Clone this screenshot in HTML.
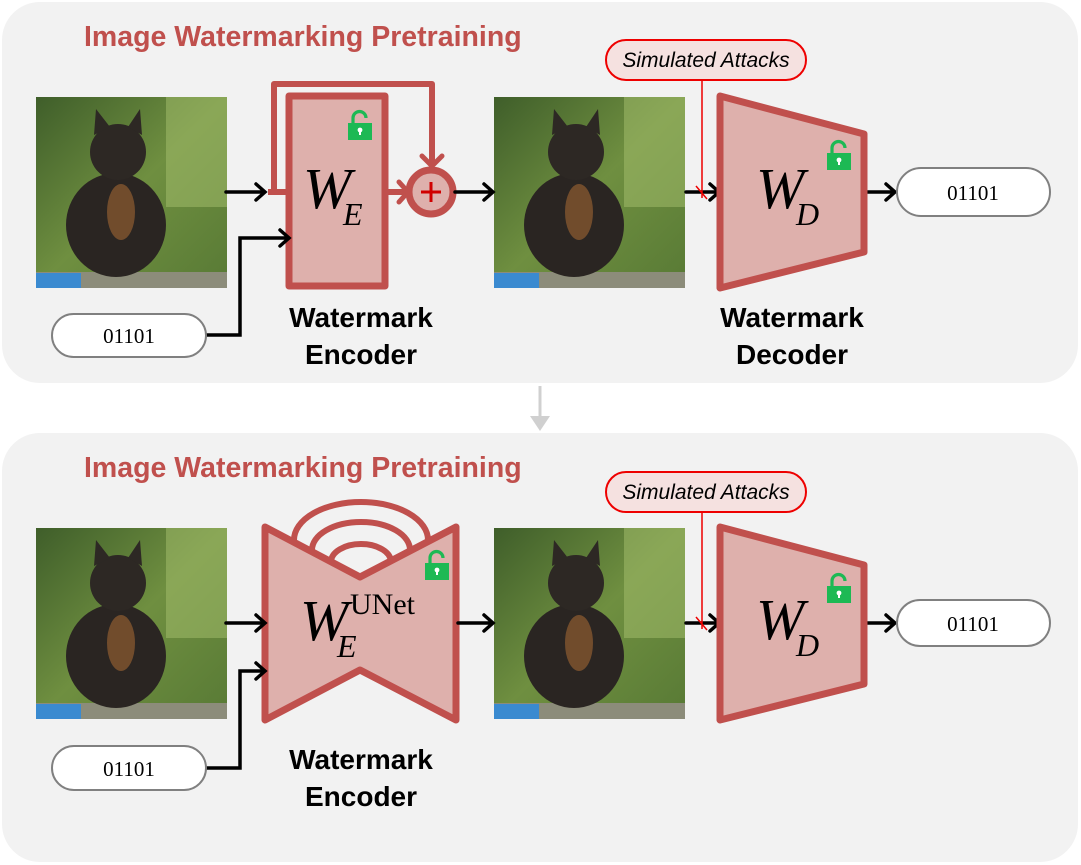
<!DOCTYPE html>
<html><head><meta charset="utf-8"><style>
body{margin:0;background:#fff}
svg{display:block}
.t{font-family:"Liberation Sans",sans-serif}
</style></head><body>
<svg width="1081" height="865" viewBox="0 0 1081 865" xmlns="http://www.w3.org/2000/svg">
<defs>
<linearGradient id="bg" x1="0" y1="0" x2="1" y2="1">
<stop offset="0" stop-color="#3f5e2a"/><stop offset="0.5" stop-color="#6f8f40"/><stop offset="1" stop-color="#587a35"/>
</linearGradient>
<g id="cat">
<rect x="0" y="0" width="191" height="191" fill="url(#bg)"/>
<rect x="130" y="0" width="61" height="110" fill="#a6bf6e" opacity="0.5"/>
<rect x="0" y="175" width="191" height="16" fill="#8c8c7a"/>
<rect x="0" y="176" width="45" height="15" fill="#3a8ad0"/>
<ellipse cx="80" cy="128" rx="50" ry="52" fill="#2a2522"/>
<ellipse cx="82" cy="55" rx="28" ry="28" fill="#2d2824"/>
<path d="M58 38 L60 12 L74 30Z M92 30 L104 12 L106 38Z" fill="#2d2824"/>
<ellipse cx="85" cy="115" rx="14" ry="28" fill="#8a5a30" opacity="0.75"/>
</g>
<g id="lock">
<path d="M5 12 V7 a6.5 6.5 0 0 1 13 0" fill="none" stroke="#1db954" stroke-width="3.2"/>
<rect x="0" y="12" width="24" height="17" fill="#1db954"/>
<circle cx="12" cy="19" r="2.4" fill="#fff"/><rect x="11" y="19" width="2" height="5" fill="#fff"/>
</g>
</defs>
<rect x="2" y="2" width="1076" height="381" rx="38" fill="#f2f2f2"/>
<rect x="2" y="433" width="1076" height="429" rx="38" fill="#f2f2f2"/>
<path d="M540 386 V418" stroke="#d0d0d0" stroke-width="3"/>
<path d="M530 416 L540 431 L550 416Z" fill="#d0d0d0"/>

<text x="84" y="46" class="t" font-size="28.5" font-weight="bold" fill="#c0504d">Image Watermarking Pretraining</text>
<text x="84" y="477" class="t" font-size="28.5" font-weight="bold" fill="#c0504d">Image Watermarking Pretraining</text>

<use href="#cat" x="36" y="97"/>
<use href="#cat" x="494" y="97"/>
<path d="M274 190 V84 H432 V166" fill="none" stroke="#c0504d" stroke-width="6" stroke-linejoin="round"/>
<path d="M422 156 L432 166 L442 156" fill="none" stroke="#c0504d" stroke-width="5" stroke-linecap="round"/>
<path d="M268 192 H289" stroke="#c0504d" stroke-width="6"/>
<rect x="289" y="96" width="96" height="190" fill="#deb0ac" stroke="#c0504d" stroke-width="7" stroke-linejoin="round"/>
<use href="#lock" x="348" y="111"/>
<text x="303" y="208" font-family="'Liberation Serif',serif" font-style="italic" font-size="58">W</text>
<text x="343" y="225" font-family="'Liberation Serif',serif" font-style="italic" font-size="32">E</text>
<path d="M385 192 H405" stroke="#c0504d" stroke-width="6"/>
<path d="M399 182 L408 192 L399 202" fill="none" stroke="#c0504d" stroke-width="5" stroke-linecap="round"/>
<circle cx="431" cy="192" r="22" fill="#deb0ac" stroke="#c0504d" stroke-width="7"/>
<path d="M421 192 H441 M431 182 V202" stroke="#d00000" stroke-width="3"/>
<g stroke="#000" stroke-width="3.5" fill="none" stroke-linecap="round">
<path d="M226 192 H264 M256 184 L265 192 L256 200"/>
<path d="M206 335 H240 V238 H288 M280 230 L289 238 L280 246"/>
<path d="M455 192 H492 M484 184 L493 192 L484 200"/>
<path d="M686 192 H718 M710 184 L719 192 L710 200"/>
<path d="M866 192 H894 M886 184 L895 192 L886 200"/>
</g>
<rect x="52" y="314" width="154" height="43" rx="21.5" fill="#fff" stroke="#808080" stroke-width="2"/>
<text x="129" y="343" text-anchor="middle" font-family="'Liberation Serif',serif" font-size="21">01101</text>
<text x="361" y="327" text-anchor="middle" class="t" font-size="28" font-weight="bold">Watermark</text>
<text x="361" y="364" text-anchor="middle" class="t" font-size="28" font-weight="bold">Encoder</text>
<rect x="606" y="40" width="200" height="40" rx="20" fill="#f5e1e0" stroke="#e00" stroke-width="2"/>
<text x="706" y="67" text-anchor="middle" class="t" font-size="21" font-style="italic">Simulated Attacks</text>
<path d="M702 80 V198 M696 186 L707 199" stroke="#e00" stroke-width="1.5" fill="none"/>
<path d="M720 96 L864 134 V252 L720 288Z" fill="#deb0ac" stroke="#c0504d" stroke-width="7" stroke-linejoin="round"/>
<use href="#lock" x="827" y="141"/>
<text x="756" y="208" font-family="'Liberation Serif',serif" font-style="italic" font-size="58">W</text>
<text x="796" y="225" font-family="'Liberation Serif',serif" font-style="italic" font-size="32">D</text>
<rect x="897" y="168" width="153" height="48" rx="24" fill="#fff" stroke="#808080" stroke-width="2"/>
<text x="973" y="200" text-anchor="middle" font-family="'Liberation Serif',serif" font-size="21">01101</text>
<text x="792" y="327" text-anchor="middle" class="t" font-size="28" font-weight="bold">Watermark</text>
<text x="792" y="364" text-anchor="middle" class="t" font-size="28" font-weight="bold">Decoder</text>

<use href="#cat" x="36" y="528"/>
<use href="#cat" x="494" y="528"/>
<g fill="none" stroke="#c0504d" stroke-width="6">
<path d="M294 540 A67 38 0 0 1 428 540"/>
<path d="M312 550 A49 28 0 0 1 410 550"/>
<path d="M331 562 A30 18 0 0 1 391 562"/>
</g>
<path d="M265 527 L360 577 L456 527 V720 L360 670 L265 720Z" fill="#deb0ac" stroke="#c0504d" stroke-width="7" stroke-linejoin="round"/>
<use href="#lock" x="425" y="551"/>
<text x="300" y="640" font-family="'Liberation Serif',serif" font-style="italic" font-size="58">W</text>
<text x="337" y="657" font-family="'Liberation Serif',serif" font-style="italic" font-size="32">E</text>
<text x="350" y="614" font-family="'Liberation Serif',serif" font-size="30">UNet</text>
<g stroke="#000" stroke-width="3.5" fill="none" stroke-linecap="round">
<path d="M226 623 H264 M256 615 L265 623 L256 631"/>
<path d="M206 768 H240 V671 H264 M256 663 L265 671 L256 679"/>
<path d="M458 623 H492 M484 615 L493 623 L484 631"/>
<path d="M686 623 H718 M710 615 L719 623 L710 631"/>
<path d="M866 623 H894 M886 615 L895 623 L886 631"/>
</g>
<rect x="52" y="746" width="154" height="44" rx="22" fill="#fff" stroke="#808080" stroke-width="2"/>
<text x="129" y="776" text-anchor="middle" font-family="'Liberation Serif',serif" font-size="21">01101</text>
<text x="361" y="769" text-anchor="middle" class="t" font-size="28" font-weight="bold">Watermark</text>
<text x="361" y="806" text-anchor="middle" class="t" font-size="28" font-weight="bold">Encoder</text>
<rect x="606" y="472" width="200" height="40" rx="20" fill="#f5e1e0" stroke="#e00" stroke-width="2"/>
<text x="706" y="499" text-anchor="middle" class="t" font-size="21" font-style="italic">Simulated Attacks</text>
<path d="M702 512 V629 M696 617 L707 630" stroke="#e00" stroke-width="1.5" fill="none"/>
<path d="M720 527 L864 565 V684 L720 720Z" fill="#deb0ac" stroke="#c0504d" stroke-width="7" stroke-linejoin="round"/>
<use href="#lock" x="827" y="574"/>
<text x="756" y="639" font-family="'Liberation Serif',serif" font-style="italic" font-size="58">W</text>
<text x="796" y="656" font-family="'Liberation Serif',serif" font-style="italic" font-size="32">D</text>
<rect x="897" y="600" width="153" height="46" rx="23" fill="#fff" stroke="#808080" stroke-width="2"/>
<text x="973" y="631" text-anchor="middle" font-family="'Liberation Serif',serif" font-size="21">01101</text>
</svg>
</body></html>
